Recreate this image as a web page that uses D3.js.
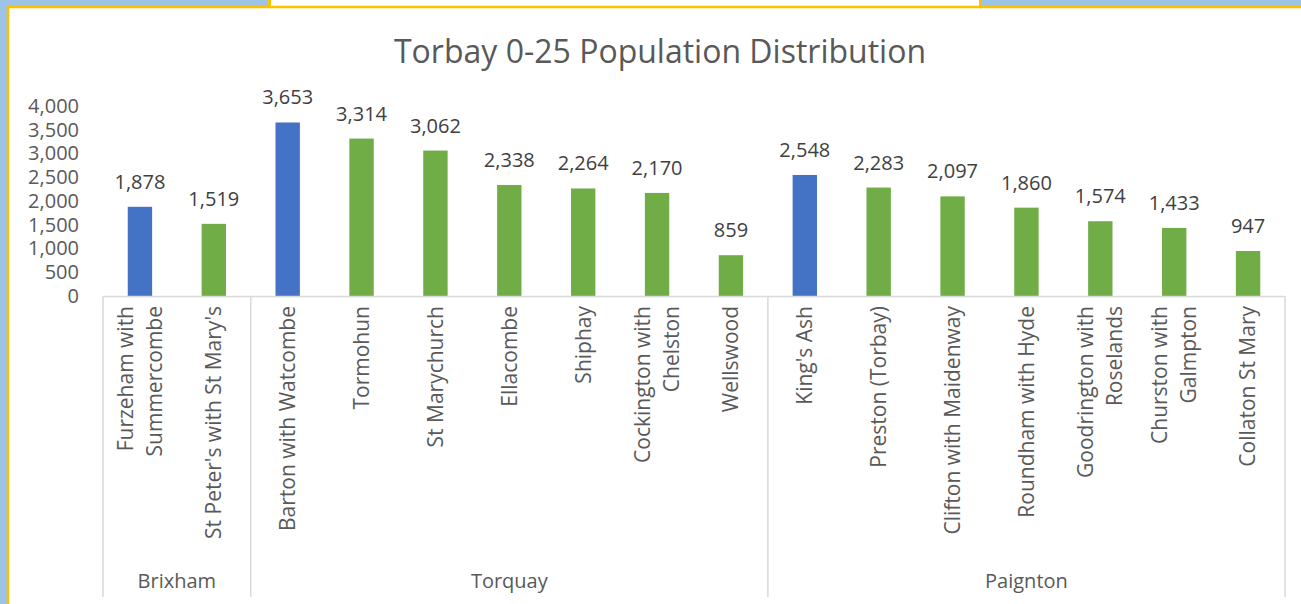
<!DOCTYPE html>
<html>
<head>
<meta charset="utf-8">
<script src="https://cdn.jsdelivr.net/npm/d3@7"></script>
<style>
  html, body { margin: 0; padding: 0; background: #9dc3e6; }
  svg { display: block; }
  text { font-family: "Open Sans", sans-serif; }
</style>
</head>
<body>
<svg id="chart" width="1301" height="604"></svg>
<script>
// wards, grouped by town
var wards = ["Furzeham with\nSummercombe", "St Peter's with St Mary's",
             "Barton with Watcombe", "Tormohun", "St Marychurch", "Ellacombe", "Shiphay",
             "Cockington with\nChelston", "Wellswood",
             "King's Ash", "Preston (Torbay)", "Clifton with Maidenway", "Roundham with Hyde",
             "Goodrington with\nRoselands", "Churston with\nGalmpton", "Collaton St Mary"],
    population = [1878, 1519, 3653, 3314, 3062, 2338, 2264, 2170, 859,
                  2548, 2283, 2097, 1860, 1574, 1433, 947],
    towns = ["Brixham", "Torquay", "Paignton"],
    townSizes = [2, 7, 7],
    yTicks = [0, 500, 1000, 1500, 2000, 2500, 3000, 3500, 4000];

var colorFirst = "#4472c4",
    colorRest = "#70ad47",
    colorGrid = "#d9d9d9",
    colorText = "#595959",
    colorBorder = "#ffc000";

var svg = d3.select("#chart");

// frame: boxes of the sheet behind the chart
svg.append("rect").attr("x", 269.5).attr("y", -10).attr("width", 711).attr("height", 17.5)
    .attr("fill", "#fff").attr("stroke", colorBorder).attr("stroke-width", 3);
svg.append("rect").attr("x", 8).attr("y", 7).attr("width", 1400).attr("height", 700)
    .attr("fill", "#fff").attr("stroke", colorBorder).attr("stroke-width", 2.5);

var plotLeft = 103, plotRight = 1285, plotTop = 106, base = 296;

var x = d3.scaleBand()
    .domain(d3.range(wards.length))
    .range([plotLeft, plotRight])
    .padding(0);

var y = d3.scaleLinear()
    .domain([0, 4000])
    .range([base, plotTop]);

var barW = x.bandwidth() * 0.33;

// first ward of each town is blue
var firstIdx = {};
var acc = 0;
townSizes.forEach(function(n) { firstIdx[acc] = true; acc += n; });

// title
svg.append("text")
    .attr("x", 660).attr("y", 63)
    .attr("text-anchor", "middle")
    .attr("font-size", 32)
    .attr("fill", colorText)
    .text("Torbay 0-25 Population Distribution");

// y axis labels, no line
var yAxis = d3.axisLeft(y).tickValues(yTicks).tickSize(0).tickPadding(0)
    .tickFormat(d3.format(","));
svg.append("g")
    .attr("transform", "translate(79,0)")
    .call(yAxis)
    .call(function(g) { g.select(".domain").remove(); })
    .selectAll("text")
    .attr("font-size", 20)
    .attr("font-family", "Open Sans, sans-serif")
    .attr("fill", colorText);

// bars
svg.append("g").selectAll("rect")
    .data(population)
    .join("rect")
    .attr("x", function(d, i) { return x(i) + (x.bandwidth() - barW) / 2; })
    .attr("y", function(d) { return y(d); })
    .attr("width", barW)
    .attr("height", function(d) { return base - y(d); })
    .attr("fill", function(d, i) { return firstIdx[i] ? colorFirst : colorRest; });

// data labels
svg.append("g").selectAll("text")
    .data(population)
    .join("text")
    .attr("x", function(d, i) { return x(i) + x.bandwidth() / 2; })
    .attr("y", function(d) { return y(d) - 18; })
    .attr("text-anchor", "middle")
    .attr("font-size", 20)
    .attr("fill", "#404040")
    .text(d3.format(","));

// category axis lines
var grid = svg.append("g").attr("stroke", colorGrid).attr("stroke-width", 1.5);
grid.append("line").attr("x1", plotLeft).attr("x2", plotRight).attr("y1", base + 0.5).attr("y2", base + 0.5);
var bounds = [0];
acc = 0;
townSizes.forEach(function(n) { acc += n; bounds.push(acc); });
function edge(b) { return b < wards.length ? x(b) : plotRight; }
grid.selectAll("line.sep")
    .data(bounds)
    .join("line")
    .attr("class", "sep")
    .attr("x1", edge)
    .attr("x2", edge)
    .attr("y1", base)
    .attr("y2", 597);

// ward labels, rotated
var lineGap = 29;
svg.append("g").selectAll("text")
    .data(wards)
    .join("text")
    .attr("transform", function(d, i) {
        return "translate(" + (x(i) + x.bandwidth() / 2) + "," + 306 + ") rotate(-90)";
    })
    .attr("text-anchor", "end")
    .attr("font-size", 21)
    .attr("fill", colorText)
    .each(function(d) {
        var lines = d.split("\n"),
            el = d3.select(this),
            off = -(lines.length - 1) * lineGap / 2;
        lines.forEach(function(l, k) {
            el.append("tspan")
                .attr("x", 0)
                .attr("y", off + k * lineGap)
                .attr("dy", "0.35em")
                .text(l);
        });
    });

// town labels
svg.append("g").selectAll("text")
    .data(towns)
    .join("text")
    .attr("x", function(t, i) { return (edge(bounds[i]) + edge(bounds[i + 1])) / 2; })
    .attr("y", 588)
    .attr("text-anchor", "middle")
    .attr("font-size", 20)
    .attr("fill", colorText)
    .text(function(t) { return t; });
</script>
</body>
</html>
